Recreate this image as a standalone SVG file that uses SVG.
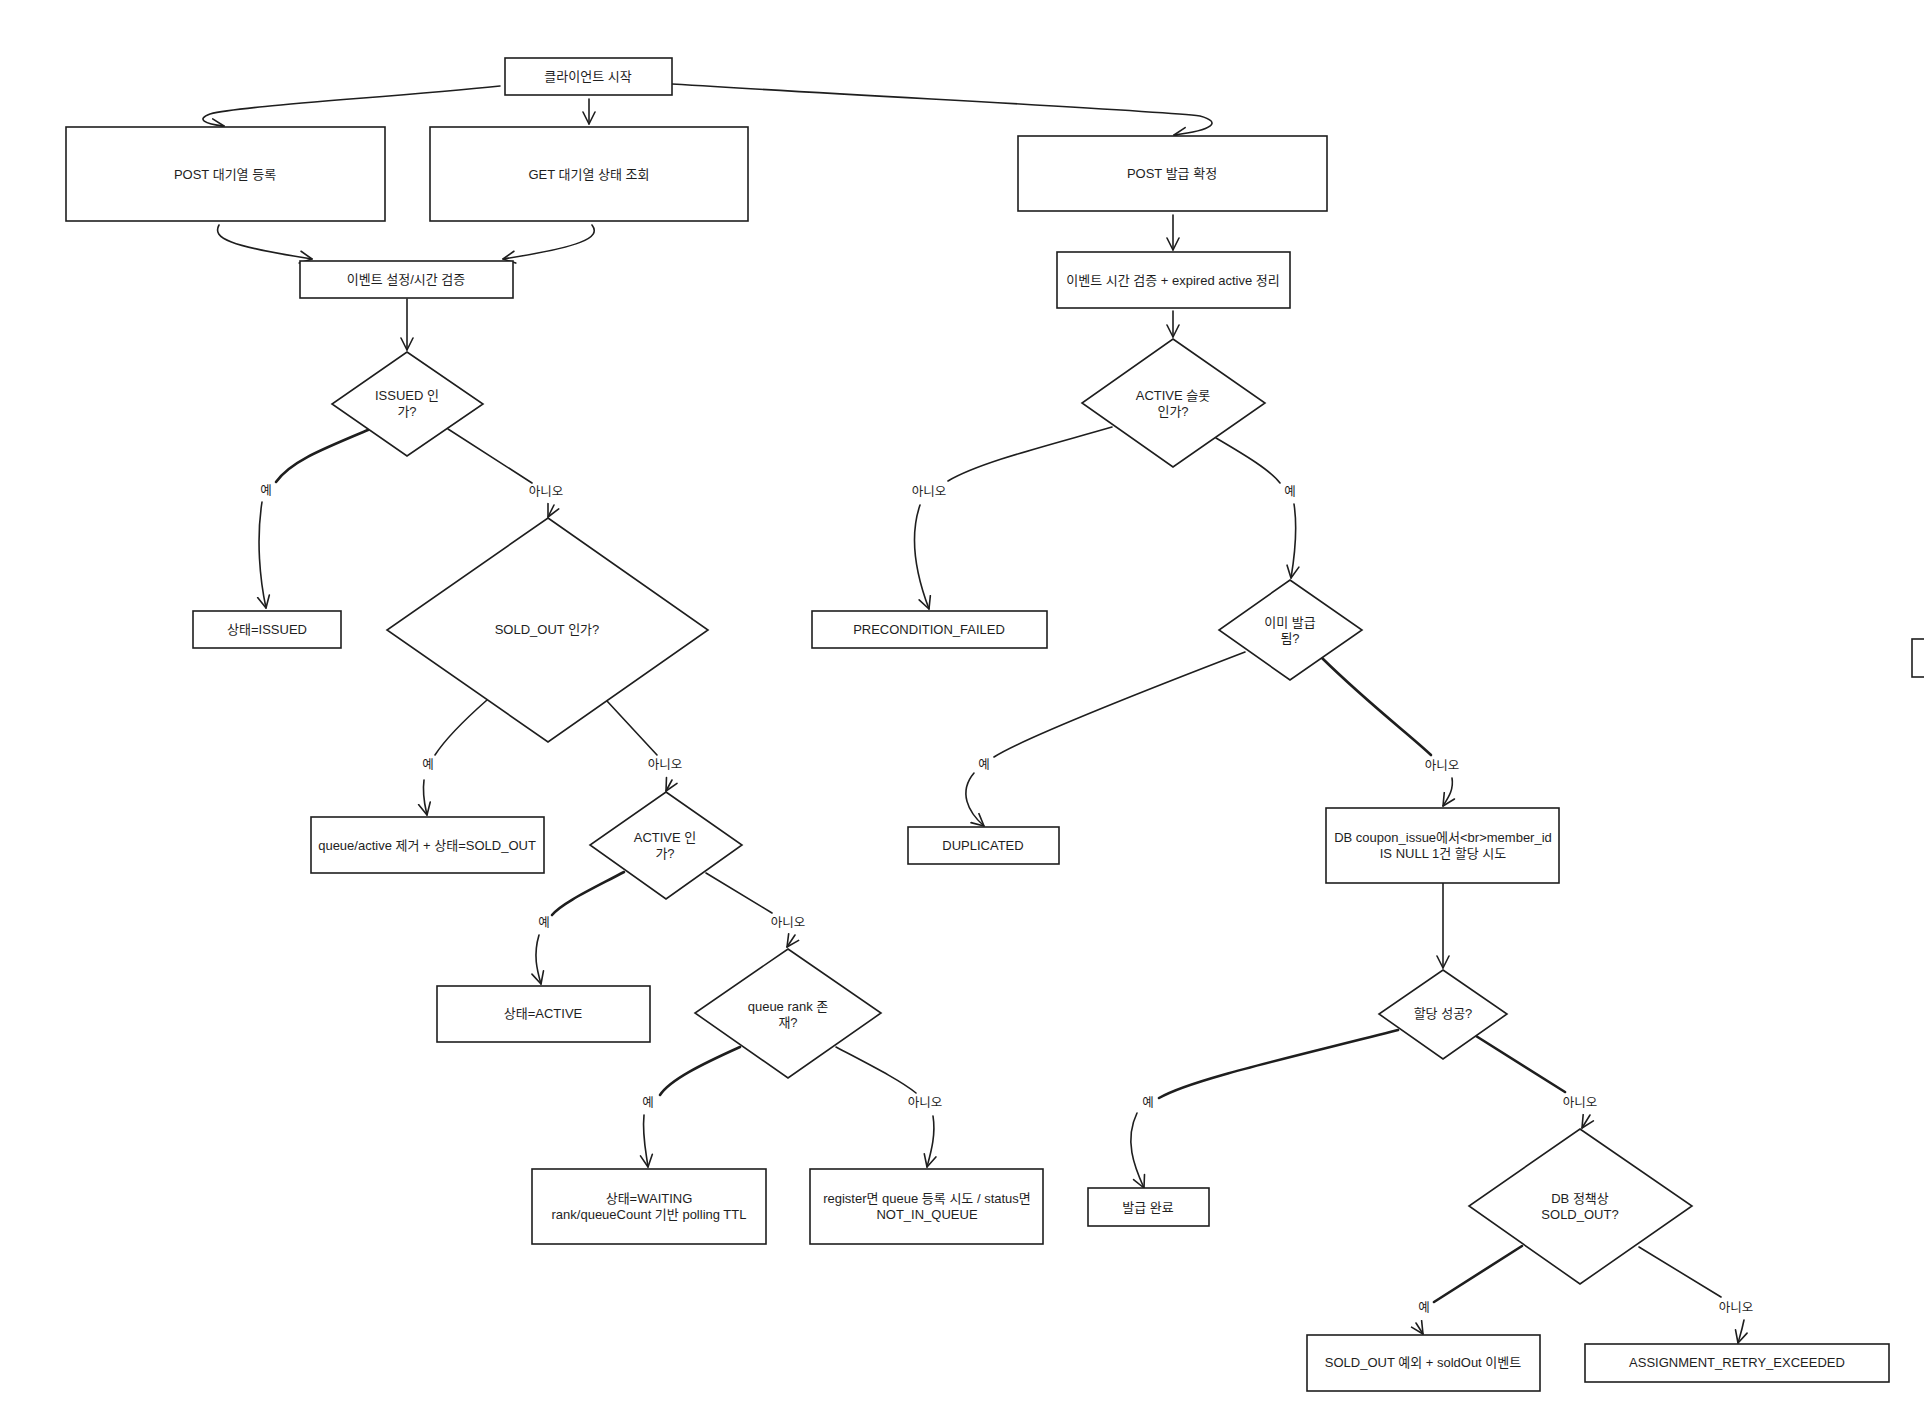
<svg xmlns="http://www.w3.org/2000/svg" width="1924" height="1418" viewBox="0 0 1924 1418">
<defs>
<marker id="arr" markerUnits="userSpaceOnUse" markerWidth="16" markerHeight="16" refX="13" refY="7" orient="auto" viewBox="0 0 16 14">
<path d="M1,1 L13,7 L1,13" fill="none" stroke="#1e1e1e" stroke-width="1.6" stroke-linecap="round" stroke-linejoin="round"/>
</marker>
<style>
.box{fill:#fff;stroke:#1e1e1e;stroke-width:1.6}
.t{font-family:"Liberation Sans","Noto Sans CJK KR",sans-serif;font-size:13px;fill:#1e1e1e;text-anchor:middle;dominant-baseline:central}
.lb{font-family:"Liberation Sans","Noto Sans CJK KR",sans-serif;font-size:12.5px;fill:#1e1e1e;text-anchor:middle;dominant-baseline:central}
.e{fill:none;stroke:#1e1e1e;stroke-width:1.6;stroke-linecap:round}
.ek{fill:none;stroke:#1e1e1e;stroke-width:2.6;stroke-linecap:round}
.a{fill:none;stroke:#1e1e1e;stroke-width:1.6;stroke-linecap:round;marker-end:url(#arr)}
</style>
</defs>
<rect width="1924" height="1418" fill="#fff"/>

<g id="connectors">
<path class="a" d="M500,86 C380,98 240,106 210,114 C196,119 204,124 224,126"/>
<path class="a" d="M589,99 L589,124"/>
<path class="a" d="M672,84 C900,98 1150,110 1200,116 C1222,122 1214,130 1174,135"/>
<path class="a" d="M219,225 C212,238 228,246 312,259"/>
<path class="a" d="M592,225 C602,238 580,247 503,259"/>
<path class="a" d="M407,299 L407,350"/>
<path class="ek" d="M368,430 C320,450 290,462 276,482"/>
<path class="a" d="M262,502 C256,540 260,580 266,608"/>
<path class="e" d="M448,429 L532,483"/>
<path class="a" d="M554,505 L548,517"/>
<path class="e" d="M487,700 C470,715 446,738 435,755"/>
<path class="a" d="M424,780 C422,795 425,806 427,815"/>
<path class="e" d="M607,701 L657,755"/>
<path class="a" d="M672,780 L666,791"/>
<path class="ek" d="M624,872 C590,890 562,903 552,915"/>
<path class="a" d="M539,935 C533,955 537,970 541,984"/>
<path class="e" d="M706,873 L772,913"/>
<path class="a" d="M795,935 L787,947"/>
<path class="ek" d="M740,1047 C700,1065 670,1080 660,1095"/>
<path class="a" d="M644,1115 C642,1135 646,1152 648,1167"/>
<path class="e" d="M836,1047 C870,1065 900,1080 916,1093"/>
<path class="a" d="M933,1116 C936,1135 931,1152 927,1167"/>
<path class="a" d="M1173,215 L1173,250"/>
<path class="a" d="M1173,311 L1173,337"/>
<path class="e" d="M1112,427 C1050,445 980,462 948,481"/>
<path class="a" d="M920,505 C908,540 918,580 929,609"/>
<path class="e" d="M1216,438 C1245,455 1270,470 1280,483"/>
<path class="a" d="M1294,504 C1298,530 1294,560 1291,578"/>
<path class="e" d="M1245,652 C1120,700 1020,740 994,757"/>
<path class="a" d="M974,773 C958,792 968,812 984,826"/>
<path class="ek" d="M1322,658 C1370,705 1410,735 1431,755"/>
<path class="a" d="M1452,778 C1454,790 1448,798 1443,806"/>
<path class="a" d="M1443,883 L1443,968"/>
<path class="ek" d="M1398,1030 C1280,1060 1190,1080 1159,1098"/>
<path class="a" d="M1137,1113 C1124,1140 1134,1166 1144,1188"/>
<path class="ek" d="M1476,1036 L1565,1092"/>
<path class="a" d="M1590,1115 L1582,1128"/>
<path class="ek" d="M1522,1246 L1434,1302"/>
<path class="a" d="M1416,1323 L1423,1334"/>
<path class="e" d="M1639,1247 L1721,1297"/>
<path class="a" d="M1744,1320 C1742,1330 1740,1336 1738,1343"/>
</g>

<g id="edge-labels">
<text class="lb" x="266" y="491">예</text>
<text class="lb" x="546" y="492">아니오</text>
<text class="lb" x="428" y="765">예</text>
<text class="lb" x="665" y="765">아니오</text>
<text class="lb" x="544" y="923">예</text>
<text class="lb" x="788" y="923">아니오</text>
<text class="lb" x="648" y="1103">예</text>
<text class="lb" x="925" y="1103">아니오</text>
<text class="lb" x="929" y="492">아니오</text>
<text class="lb" x="1290" y="492">예</text>
<text class="lb" x="984" y="765">예</text>
<text class="lb" x="1442" y="766">아니오</text>
<text class="lb" x="1148" y="1103">예</text>
<text class="lb" x="1580" y="1103">아니오</text>
<text class="lb" x="1424" y="1308">예</text>
<text class="lb" x="1736" y="1308">아니오</text>
</g>

<g id="n-start"><rect class="box" x="505" y="58" width="167" height="37"/><text class="t" x="588" y="76">클라이언트 시작</text></g>
<g id="n-post-queue"><rect class="box" x="66" y="127" width="319" height="94"/><text class="t" x="225" y="174">POST 대기열 등록</text></g>
<g id="n-get-queue"><rect class="box" x="430" y="127" width="318" height="94"/><text class="t" x="589" y="174">GET 대기열 상태 조회</text></g>
<g id="n-validate"><rect class="box" x="300" y="261" width="213" height="37"/><text class="t" x="406" y="279">이벤트 설정/시간 검증</text></g>
<g id="n-issued-q"><polygon class="box" points="407,352 483,404 407,456 332,404"/><text class="t" x="407" y="395">ISSUED 인</text><text class="t" x="407" y="411">가?</text></g>
<g id="n-issued"><rect class="box" x="193" y="611" width="148" height="37"/><text class="t" x="267" y="629">상태=ISSUED</text></g>
<g id="n-soldout-q"><polygon class="box" points="548,518 708,630 548,742 387,630"/><text class="t" x="547" y="629">SOLD_OUT 인가?</text></g>
<g id="n-soldout"><rect class="box" x="311" y="817" width="233" height="56"/><text class="t" x="427" y="845">queue/active 제거 + 상태=SOLD_OUT</text></g>
<g id="n-active-q"><polygon class="box" points="666,792 742,845 666,899 590,845"/><text class="t" x="665" y="837">ACTIVE 인</text><text class="t" x="665" y="853">가?</text></g>
<g id="n-active"><rect class="box" x="437" y="986" width="213" height="56"/><text class="t" x="543" y="1013">상태=ACTIVE</text></g>
<g id="n-rank-q"><polygon class="box" points="788,949 881,1013 788,1078 695,1013"/><text class="t" x="788" y="1006">queue rank 존</text><text class="t" x="788" y="1022">재?</text></g>
<g id="n-waiting"><rect class="box" x="532" y="1169" width="234" height="75"/><text class="t" x="649" y="1198">상태=WAITING</text><text class="t" x="649" y="1214">rank/queueCount 기반 polling TTL</text></g>
<g id="n-notinqueue"><rect class="box" x="810" y="1169" width="233" height="75"/><text class="t" x="927" y="1198">register면 queue 등록 시도 / status면</text><text class="t" x="927" y="1214">NOT_IN_QUEUE</text></g>

<g id="n-post-issue"><rect class="box" x="1018" y="136" width="309" height="75"/><text class="t" x="1172" y="173">POST 발급 확정</text></g>
<g id="n-validate2"><rect class="box" x="1057" y="252" width="233" height="56"/><text class="t" x="1173" y="280">이벤트 시간 검증 + expired active 정리</text></g>
<g id="n-slot-q"><polygon class="box" points="1173,339 1265,403 1173,467 1082,403"/><text class="t" x="1173" y="395">ACTIVE 슬롯</text><text class="t" x="1173" y="411">인가?</text></g>
<g id="n-precondition"><rect class="box" x="812" y="611" width="235" height="37"/><text class="t" x="929" y="629">PRECONDITION_FAILED</text></g>
<g id="n-already-q"><polygon class="box" points="1290,580 1362,630 1290,680 1219,630"/><text class="t" x="1290" y="622">이미 발급</text><text class="t" x="1290" y="638">됨?</text></g>
<g id="n-duplicated"><rect class="box" x="908" y="827" width="151" height="37"/><text class="t" x="983" y="845">DUPLICATED</text></g>
<g id="n-assign"><rect class="box" x="1326" y="808" width="233" height="75"/><text class="t" x="1443" y="837">DB coupon_issue에서&lt;br&gt;member_id</text><text class="t" x="1443" y="853">IS NULL 1건 할당 시도</text></g>
<g id="n-assign-q"><polygon class="box" points="1443,970 1507,1014 1443,1059 1379,1014"/><text class="t" x="1443" y="1013">할당 성공?</text></g>
<g id="n-done"><rect class="box" x="1088" y="1188" width="121" height="38"/><text class="t" x="1148" y="1207">발급 완료</text></g>
<g id="n-policy-q"><polygon class="box" points="1580,1129 1692,1206 1580,1284 1469,1206"/><text class="t" x="1580" y="1198">DB 정책상</text><text class="t" x="1580" y="1214">SOLD_OUT?</text></g>
<g id="n-soldout-ex"><rect class="box" x="1307" y="1335" width="233" height="56"/><text class="t" x="1423" y="1362">SOLD_OUT 예외 + soldOut 이벤트</text></g>
<g id="n-retry"><rect class="box" x="1585" y="1344" width="304" height="38"/><text class="t" x="1737" y="1362">ASSIGNMENT_RETRY_EXCEEDED</text></g>
<g id="n-edge-partial"><rect class="box" x="1912" y="639" width="40" height="38"/></g>
</svg>
